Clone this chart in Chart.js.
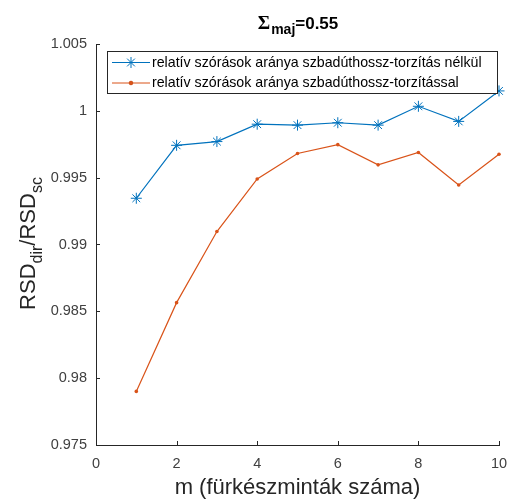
<!DOCTYPE html>
<html>
<head>
<meta charset="utf-8">
<script src="https://cdn.jsdelivr.net/npm/chart.js@4.4.0/dist/chart.umd.min.js"></script>
<style>
  html, body { margin: 0; padding: 0; background: #fff; }
  #wrap { width: 507px; height: 501px; }
</style>
</head>
<body>
<div id="wrap"><canvas id="rsdChart" width="507" height="501"></canvas></div>
<script>
// m értékek (fürkészminták száma)
const mValues = [1, 2, 3, 4, 5, 6, 7, 8, 9, 10];
const withoutTorsion = [0.99346, 0.99742, 0.99770, 0.99900, 0.99893, 0.99911, 0.99893, 1.00034, 0.99921, 1.00149];
const withTorsion = [0.97901, 0.98565, 0.99097, 0.99490, 0.99681, 0.99747, 0.99596, 0.99688, 0.99445, 0.99675];
const seriesNames = [
    'relatív szórások aránya szbadúthossz-torzítás nélkül',
    'relatív szórások aránya szbadúthossz-torzítással'
];
const xTicks = [0, 2, 4, 6, 8, 10];
const yTicks = [0.975, 0.98, 0.985, 0.99, 0.995, 1, 1.005];

const FONT = '"Liberation Sans", Arial, Helvetica, sans-serif';
const SERIF = '"Liberation Serif", "Times New Roman", serif';
const BLUE = '#0072BD';
const ORANGE = '#D95319';

function toPoints(ys) {
    return mValues.map((m, i) => ({ x: m, y: ys[i] }));
}

// befelé mutató tickek, legenda, cím és y felirat (alsó indexekkel)
const matlabLook = {
    id: 'matlabLook',
    afterDraw(chart) {
        const ctx = chart.ctx;
        const area = chart.chartArea;
        const xs = chart.scales.x, ys = chart.scales.y;

        ctx.save();
        ctx.strokeStyle = '#262626';
        ctx.lineWidth = 1;
        ctx.beginPath();
        xTicks.forEach(v => {
            const px = Math.round(xs.getPixelForValue(v)) + 0.5;
            ctx.moveTo(px, area.bottom);
            ctx.lineTo(px, area.bottom - 4);
        });
        yTicks.forEach(v => {
            const py = Math.round(ys.getPixelForValue(v)) + 0.5;
            ctx.moveTo(area.left, py);
            ctx.lineTo(area.left + 4, py);
        });
        ctx.stroke();

        // legenda
        const lx = 107, ly = 51, lw = 390, lh = 42;
        ctx.fillStyle = '#fff';
        ctx.fillRect(lx, ly, lw, lh);
        ctx.strokeStyle = '#262626';
        ctx.strokeRect(lx + 0.5, ly + 0.5, lw, lh);
        ctx.font = '14.2px ' + FONT;
        ctx.textBaseline = 'middle';
        ctx.textAlign = 'left';
        const rows = [ly + 11.5, ly + 32];
        chart.data.datasets.forEach((ds, i) => {
            const y = rows[i];
            ctx.strokeStyle = ds.borderColor;
            ctx.lineWidth = 1;
            ctx.beginPath();
            ctx.moveTo(112, y);
            ctx.lineTo(150, y);
            ctx.stroke();
            Chart.helpers.drawPoint(ctx, {
                pointStyle: ds.pointStyle,
                radius: ds.pointRadius,
                borderWidth: 1
            }, 131, y);
            if (ds.pointStyle === 'circle') {
                ctx.fillStyle = ds.borderColor;
                ctx.beginPath();
                ctx.arc(131, y, ds.pointRadius, 0, Math.PI * 2);
                ctx.fill();
            }
            ctx.fillStyle = '#000';
            ctx.fillText(seriesNames[i], 152, y + 0.5);
        });

        // cím: Σ_maj=0.55
        ctx.fillStyle = '#000';
        ctx.textBaseline = 'alphabetic';
        const sig = 'bold 19px ' + SERIF;
        const big = 'bold 17px ' + FONT, small = 'bold 14px ' + FONT;
        ctx.font = sig;
        const wS = ctx.measureText('Σ').width;
        ctx.font = big;
        const wE = ctx.measureText('=0.55').width;
        ctx.font = small;
        const wM = ctx.measureText('maj').width;
        let tx = (area.left + area.right) / 2 - (wS + wM + wE) / 2;
        const tb = 29;
        ctx.font = sig;
        ctx.fillText('Σ', tx, tb);
        tx += wS + 1;
        ctx.font = small;
        ctx.fillText('maj', tx, tb + 5);
        tx += wM;
        ctx.font = big;
        ctx.fillText('=0.55', tx, tb);

        // y felirat: RSD_dir / RSD_sc
        const parts = [
            ['RSD', false], ['dir', true], ['/RSD', false], ['sc', true]
        ];
        const fBig = '22px ' + FONT, fSmall = '16px ' + FONT;
        let total = 0;
        parts.forEach(p => {
            ctx.font = p[1] ? fSmall : fBig;
            total += ctx.measureText(p[0]).width;
        });
        ctx.translate(35, (area.top + area.bottom) / 2 - 1);
        ctx.rotate(-Math.PI / 2);
        let px = -total / 2;
        ctx.fillStyle = '#262626';
        parts.forEach(p => {
            ctx.font = p[1] ? fSmall : fBig;
            ctx.fillText(p[0], px, p[1] ? 7 : 0);
            px += ctx.measureText(p[0]).width;
        });
        ctx.restore();
    }
};

new Chart(document.getElementById('rsdChart').getContext('2d'), {
    type: 'line',
    data: {
        datasets: [
            {
                label: seriesNames[0],
                data: toPoints(withoutTorsion),
                borderColor: BLUE,
                backgroundColor: BLUE,
                borderWidth: 1.2,
                pointStyle: 'star',
                pointRadius: 5.5,
                pointBorderWidth: 1,
                tension: 0
            },
            {
                label: seriesNames[1],
                data: toPoints(withTorsion),
                borderColor: ORANGE,
                backgroundColor: ORANGE,
                borderWidth: 1.2,
                pointStyle: 'circle',
                pointRadius: 1.8,
                pointBorderWidth: 0,
                tension: 0
            }
        ]
    },
    options: {
        responsive: false,
        animation: false,
        devicePixelRatio: 1,
        clip: false,
        layout: { padding: { left: 0, top: 44, right: 8, bottom: 0 } },
        plugins: {
            legend: { display: false },
            tooltip: { enabled: false },
            title: { display: false }
        },
        scales: {
            x: {
                type: 'linear',
                min: 0,
                max: 10,
                afterBuildTicks: s => { s.ticks = xTicks.map(v => ({ value: v })); },
                afterFit: s => { s.height = 56; s.paddingLeft = 0; s.paddingRight = 0; },
                grid: { drawOnChartArea: false, drawTicks: false },
                border: { color: '#262626', width: 1 },
                ticks: {
                    padding: 10,
                    color: '#404040',
                    font: { family: FONT, size: 14.5 }
                },
                title: {
                    display: true,
                    text: 'm (fürkészminták száma)',
                    color: '#262626',
                    font: { family: FONT, size: 22 },
                    padding: { top: 2, bottom: 0 }
                }
            },
            y: {
                type: 'linear',
                min: 0.975,
                max: 1.005,
                afterBuildTicks: s => { s.ticks = yTicks.map(v => ({ value: v })); },
                afterFit: s => { s.width = 96; s.paddingTop = 0; s.paddingBottom = 0; },
                grid: { drawOnChartArea: false, drawTicks: false },
                border: { color: '#262626', width: 1 },
                ticks: {
                    padding: 9,
                    color: '#404040',
                    font: { family: FONT, size: 14.5 },
                    callback: v => String(Number(v.toFixed(3)))
                }
            }
        }
    },
    plugins: [matlabLook]
});
</script>
</body>
</html>
